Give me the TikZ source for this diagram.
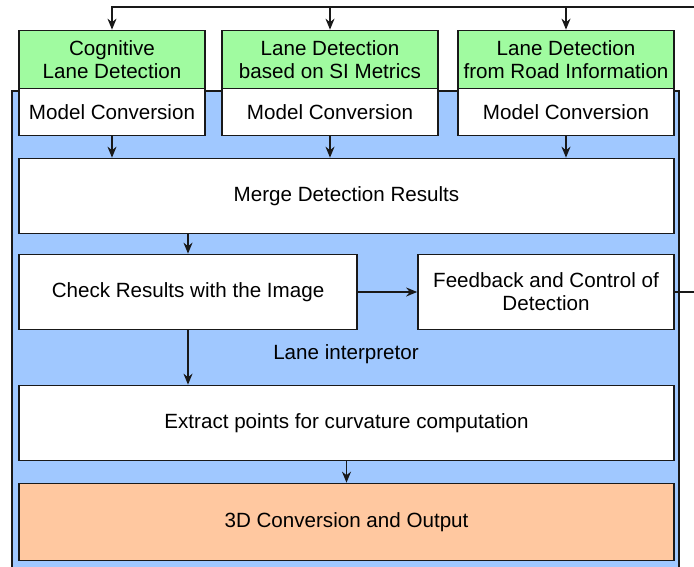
\documentclass[tikz,border=0pt]{standalone}
\usepackage{fontspec}
\setmainfont{Liberation Sans}
\usetikzlibrary{arrows.meta}
\definecolor{detgreen}{RGB}{160,251,160}
\definecolor{interpblue}{RGB}{160,200,255}
\definecolor{outorange}{RGB}{255,200,160}
\definecolor{edgegray}{RGB}{25,25,25}

\begin{document}
\begin{tikzpicture}[x=1pt, y=-1pt, line width=1.7pt,
  txt/.style={font=\fontsize{20.6}{23}\selectfont},
  box/.style={draw=edgegray, fill=white, inner sep=0pt, align=center, txt},
  detbox/.style={box, fill=detgreen},
  arr/.style={draw=edgegray, line width=1.6pt, -{Stealth[length=11pt,width=9pt]}},
  link/.style={draw=edgegray, line width=1.6pt},
  ]
\useasboundingbox (0,0) rectangle (694,567);
\clip (0,0) rectangle (694,567);

% interpreter area
\filldraw[fill=interpblue, draw=edgegray] (12,91) rectangle (679,600);
\node[txt] (interp) at (346,354) {Lane interpretor};

% detection modules
\node[detbox, minimum width=186pt, minimum height=58pt] (g1) at (112,59.5) {Cognitive\\Lane Detection};
\node[detbox, minimum width=216pt, minimum height=58pt] (g2) at (330,59.5) {Lane Detection\\based on SI Metrics};
\node[detbox, minimum width=216pt, minimum height=58pt] (g3) at (566,59.5) {Lane Detection\\from Road Information};

\node[box, minimum width=186pt, minimum height=47pt] (m1) at (112,112) {Model Conversion};
\node[box, minimum width=216pt, minimum height=47pt] (m2) at (330,112) {Model Conversion};
\node[box, minimum width=216pt, minimum height=47pt] (m3) at (566,112) {Model Conversion};

% processing chain
\node[box, minimum width=655pt, minimum height=75pt] (merge) at (346.5,196) {Merge Detection Results};
\node[box, minimum width=338pt, minimum height=75pt] (check) at (188,292) {Check Results with the Image};
\node[box, minimum width=256pt, minimum height=75pt] (fb) at (546,292) {Feedback and Control of\\Detection};
\node[box, minimum width=655pt, minimum height=75pt] (extract) at (346.5,423) {Extract points for curvature computation};
\node[box, fill=outorange, minimum width=655pt, minimum height=77pt] (out) at (346.5,522) {3D Conversion and Output};

% connectors
\draw[arr] (m1.south) -- (m1.south |- merge.north);
\draw[arr] (m2.south) -- (m2.south |- merge.north);
\draw[arr] (m3.south) -- (m3.south |- merge.north);
\draw[arr] (check.north |- merge.south) -- (check.north);
\draw[arr] (check.east) -- (fb.west);
\draw[arr] (check.south) -- (check.south |- extract.north);
\draw[arr] (extract.south) -- (out.north);

% feedback loop back to the detection modules
\coordinate (loop) at (710,7);
\draw[link] (fb.east) -| (loop);
\draw[arr] (loop) -| (g1.north);
\draw[arr] (g2.north |- loop) -- (g2.north);
\draw[arr] (g3.north |- loop) -- (g3.north);
\end{tikzpicture}
\end{document}
